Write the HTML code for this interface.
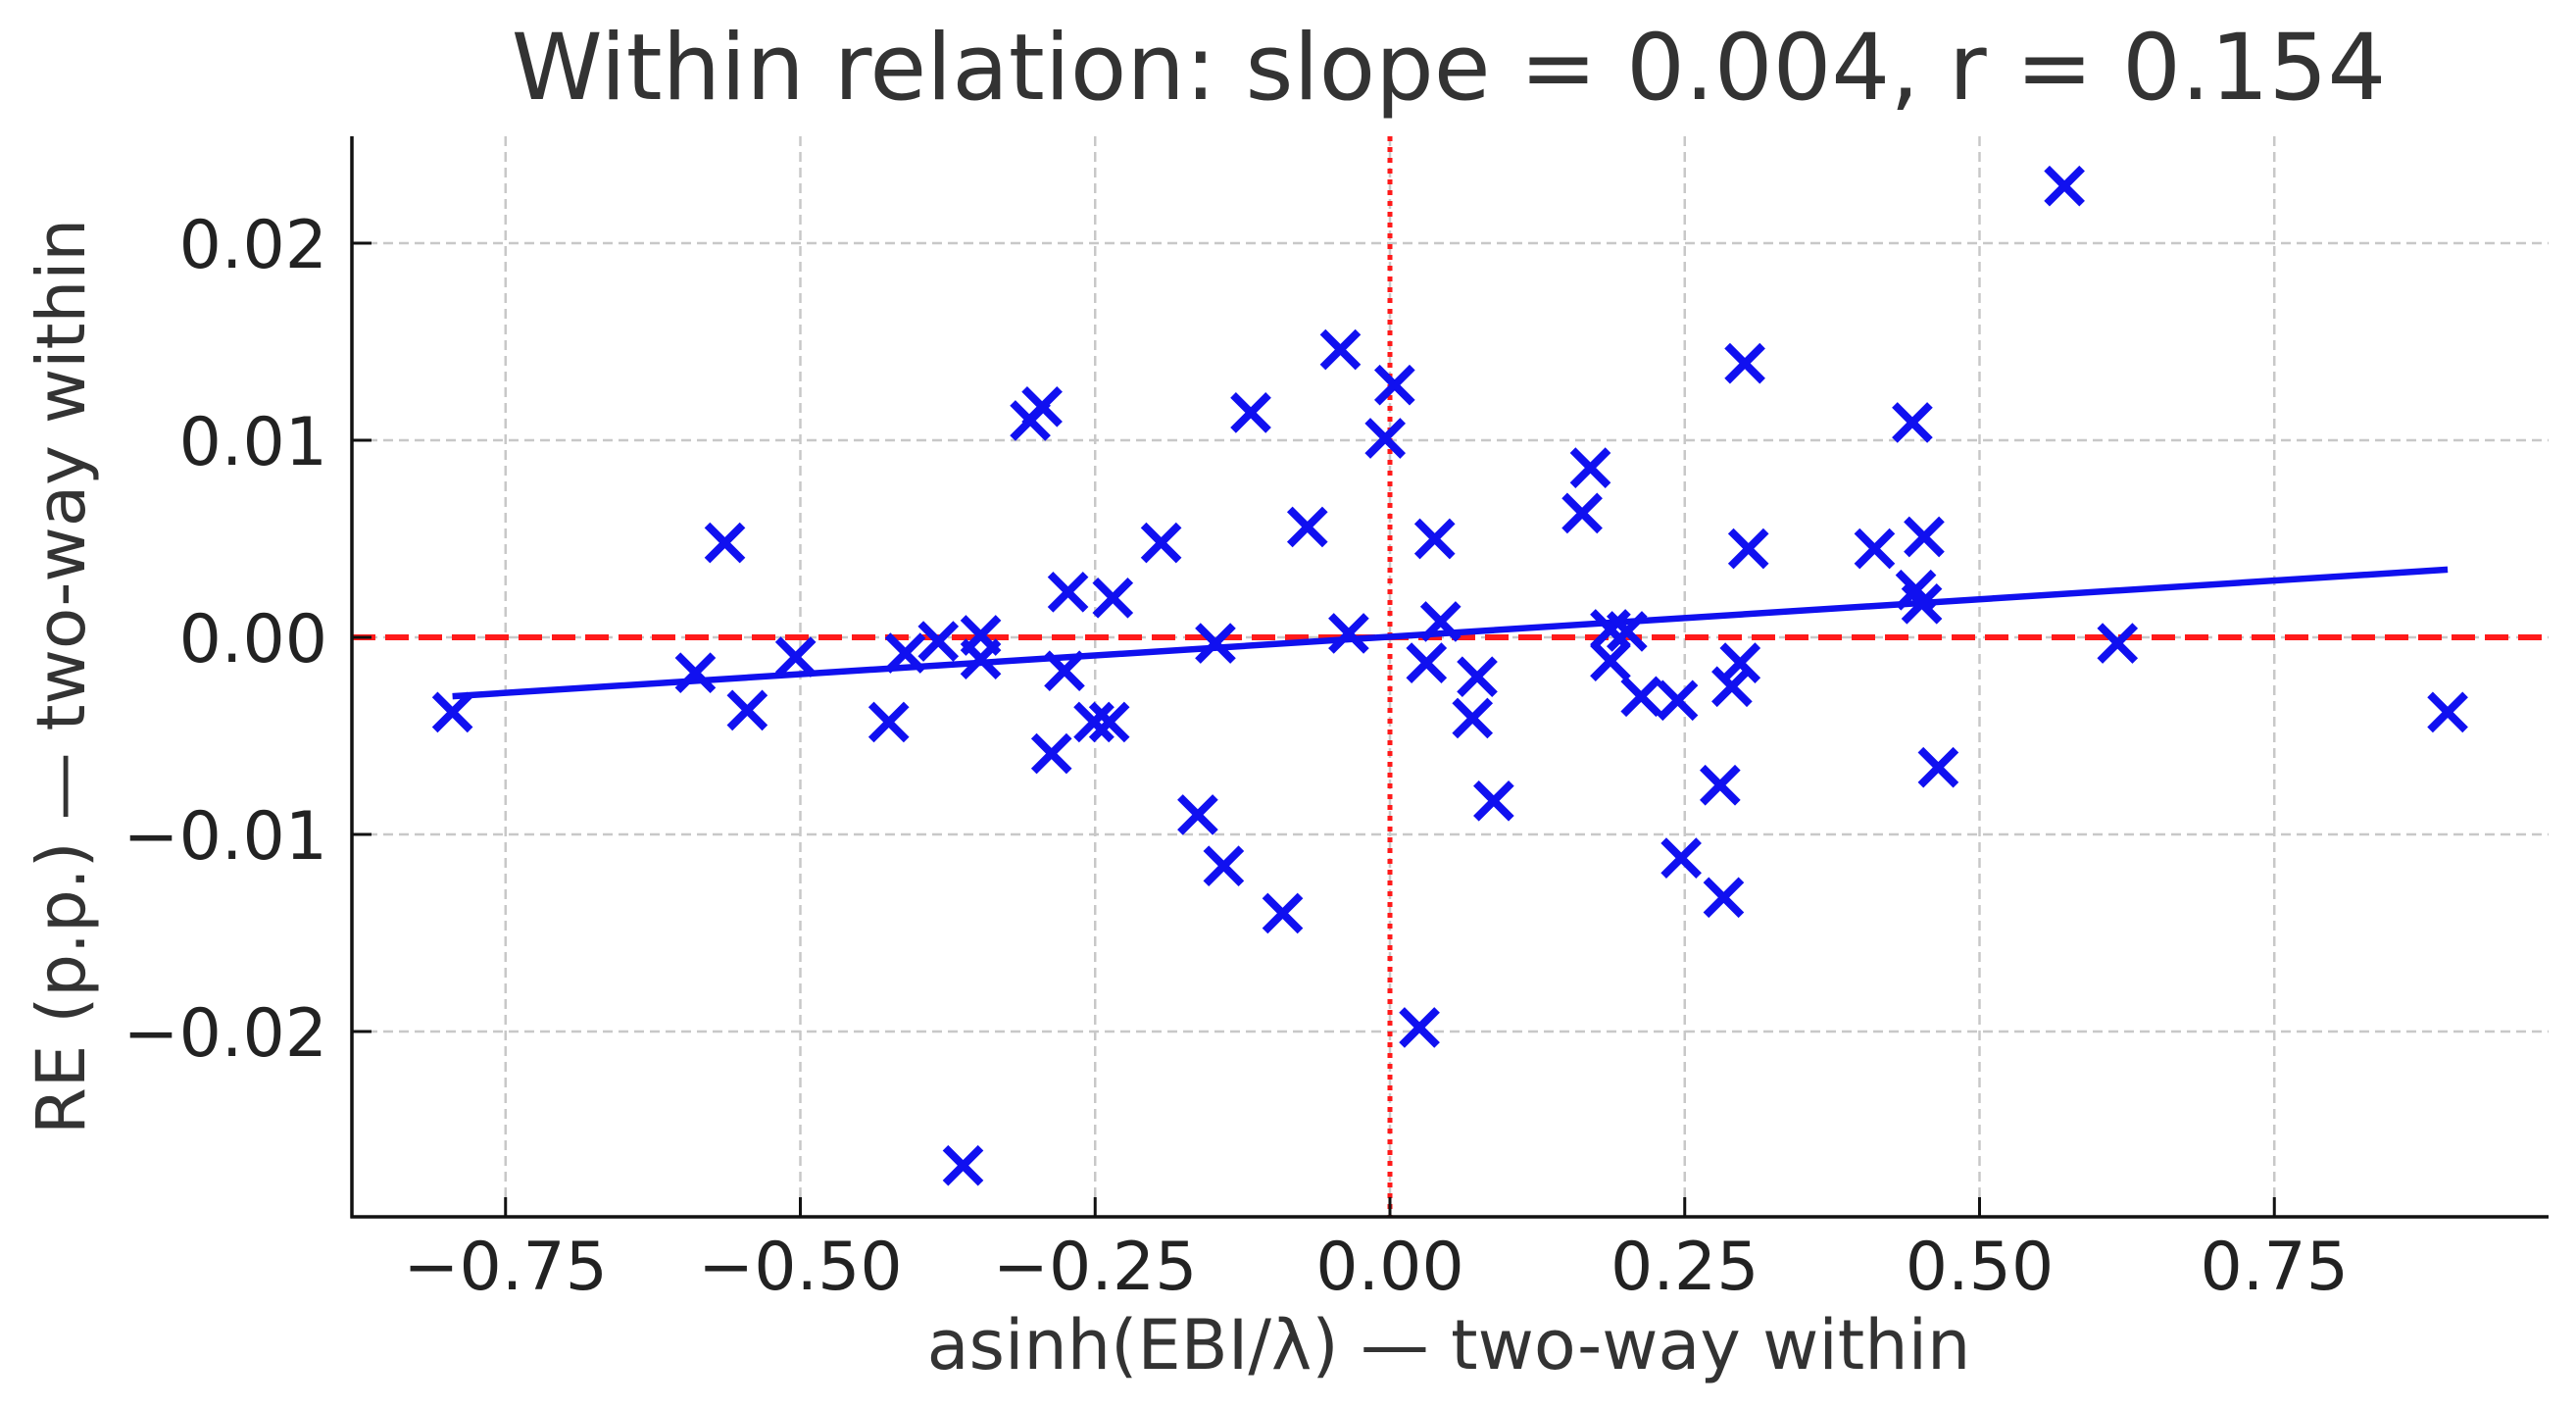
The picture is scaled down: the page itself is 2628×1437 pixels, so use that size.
<!DOCTYPE html>
<html><head><meta charset="utf-8"><style>
html,body{margin:0;padding:0;background:#fff;}
svg{display:block;font-family:"DejaVu Sans","Liberation Sans",sans-serif;}
</style></head><body>
<svg id="chart" width="2628" height="1437" viewBox="0 0 2628 1437" xmlns="http://www.w3.org/2000/svg">
<rect width="2628" height="1437" fill="#fff"/>
<text x="1478" y="101" font-size="94" fill="#333" text-anchor="middle">Within relation: slope = 0.004, r = 0.154</text>
<g id="grid"></g>
<g id="refs"></g>
<g id="fit"></g>
<g id="points"></g>
<g id="axes"></g>
<text x="1478" y="1396" font-size="70" fill="#333" text-anchor="middle">asinh(EBI/λ) — two-way within</text>
<text transform="translate(86,690) rotate(-90)" font-size="69" fill="#333" text-anchor="middle">RE (p.p.) — two-way within</text>
</svg>
<script>
const xVals=[-0.795,-0.564,-0.589,-0.545,-0.504,-0.425,-0.411,-0.383,-0.347,-0.347,-0.362,-0.305,-0.295,-0.287,-0.273,-0.276,-0.251,-0.238,-0.235,-0.194,-0.163,-0.148,-0.141,-0.118,-0.091,-0.070,-0.042,-0.035,-0.004,0.004,0.025,0.031,0.038,0.043,0.070,0.074,0.088,0.163,0.170,0.187,0.187,0.201,0.213,0.244,0.247,0.280,0.283,0.290,0.297,0.301,0.304,0.411,0.443,0.446,0.451,0.453,0.465,0.572,0.617,0.897];
const yVals=[-0.0038,0.0048,-0.0018,-0.0037,-0.0010,-0.0043,-0.0008,-0.0002,0.0001,-0.0011,-0.0268,0.0110,0.0117,-0.0059,0.0023,-0.0017,-0.0043,-0.0043,0.0020,0.0048,-0.0090,-0.0003,-0.0116,0.0114,-0.0140,0.0056,0.0146,0.0002,0.0101,0.0128,-0.0198,-0.0013,0.0050,0.0008,-0.0041,-0.0020,-0.0083,0.0063,0.0086,0.0004,-0.0012,0.0003,-0.0030,-0.0032,-0.0112,-0.0075,-0.0132,-0.0025,-0.0013,0.0139,0.0045,0.0045,0.0109,0.0024,0.0017,0.0051,-0.0066,0.0229,-0.0003,-0.0038];
const fitSlope=[0.0038];
const fitIntercept=[0.00003];
const xTicks=[-0.75,-0.5,-0.25,0,0.25,0.5,0.75];
const xTickLabels=["−0.75","−0.50","−0.25","0.00","0.25","0.50","0.75"];
const yTicks=[0.02,0.01,0,-0.01,-0.02];
const yTickLabels=["0.02","0.01","0.00","−0.01","−0.02"];

const L=359,R=2600,T=139,B=1241;
const sx=v=>1418+v*1203;
const sy=v=>650-v*20100;
const NS="http://www.w3.org/2000/svg";
function mk(tag,attrs,parent){const e=document.createElementNS(NS,tag);for(const k in attrs)e.setAttribute(k,attrs[k]);parent.appendChild(e);return e;}
const grid=document.getElementById('grid'),refs=document.getElementById('refs'),fit=document.getElementById('fit'),pts=document.getElementById('points'),axes=document.getElementById('axes');
xTicks.forEach((t,i)=>{
  const g=mk('line',{x1:sx(t),x2:sx(t),y1:T,y2:B,stroke:'#c8c8c8','stroke-width':2.5,'stroke-dasharray':'10 6'},grid);
  
  
  const tk=mk('line',{x1:sx(t),x2:sx(t),y1:B,y2:B-20,stroke:'#111','stroke-width':3},axes);
  
  
  const lb=mk('text',{x:sx(t),y:1315,'font-size':68,fill:'#222','text-anchor':'middle'},axes);
  lb.textContent=xTickLabels[i];
  
  
});
yTicks.forEach((t,i)=>{
  const g=mk('line',{x1:L,x2:R,y1:sy(t),y2:sy(t),stroke:'#c8c8c8','stroke-width':2.5,'stroke-dasharray':'10 6'},grid);
  
  
  const tk=mk('line',{x1:L,x2:L+20,y1:sy(t),y2:sy(t),stroke:'#111','stroke-width':3},axes);
  
  
  const lb=mk('text',{x:334,y:sy(t)+25,'font-size':68,fill:'#222','text-anchor':'end'},axes);
  lb.textContent=yTickLabels[i];
  
  
});
const h=mk('line',{x1:L,x2:R,y1:sy(0),y2:sy(0),stroke:'#ff1a1a','stroke-width':6,'stroke-dasharray':'24 10'},refs);


const v=mk('line',{x1:sx(0),x2:sx(0),y1:T,y2:B,stroke:'#ff1a1a','stroke-width':5,'stroke-dasharray':'5 6'},refs);


const xmin=Math.min(...xVals),xmax=Math.max(...xVals);
const fl=mk('line',{x1:sx(xmin),y1:sy(fitIntercept[0]+fitSlope[0]*xmin),x2:sx(xmax),y2:sy(fitIntercept[0]+fitSlope[0]*xmax),stroke:'#1010ee','stroke-width':6.5},fit);


const s=18;
xVals.forEach((x,i)=>{
  const cx=sx(x),cy=sy(yVals[i]);
  const p=mk('path',{d:`M${cx-s},${cy-s}L${cx+s},${cy+s}M${cx-s},${cy+s}L${cx+s},${cy-s}`,stroke:'#1010f0','stroke-width':8,fill:'none'},pts);
  
  
});
const sp1=mk('line',{x1:L,x2:L,y1:T,y2:B+1.5,stroke:'#111','stroke-width':3.5},axes);


const sp2=mk('line',{x1:L-1.5,x2:R,y1:B,y2:B,stroke:'#111','stroke-width':3.5},axes);


</script>
</body></html>
